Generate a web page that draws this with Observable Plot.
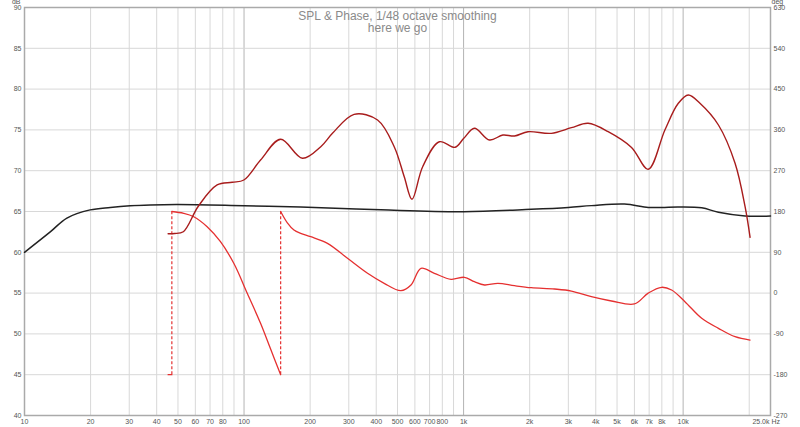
<!DOCTYPE html>
<html><head><meta charset="utf-8">
<script src="https://cdn.jsdelivr.net/npm/d3@7"></script>
<script src="https://cdn.jsdelivr.net/npm/@observablehq/plot@0.6"></script>
<style>body{margin:0;background:#fff;}</style>
</head><body><div id="chart"></div>
<script>
// ---- Texts ----
const titleLines = ["SPL & Phase, 1/48 octave smoothing", "here we go"];
const leftUnit = "dB", rightUnit = "deg", xUnit = "Hz";

// ---- Axis ticks ----
const dbTicks = [40, 45, 50, 55, 60, 65, 70, 75, 80, 85, 90];
const degTicks = [-270, -180, -90, 0, 90, 180, 270, 360, 450, 540, 630];
const xTickValues = [10, 20, 30, 40, 50, 60, 70, 80, 100, 200, 300, 400, 500, 600, 700, 800, 1000, 2000, 3000, 4000, 5000, 6000, 7000, 8000, 10000];
const xTickLabels = ["10", "20", "30", "40", "50", "60", "70", "80", "100", "200", "300", "400", "500", "600", "700", "800", "1k", "2k", "3k", "4k", "5k", "6k", "7k", "8k", "10k"];
const xEndValue = 25000, xEndLabel = "25.0k";
const decades = [10, 100, 1000, 10000];
const decadeLines = [100, 1000, 10000];

// ---- Series: black SPL (dB) ----
const freqBlack = [10, 13.1, 15.6, 19.9, 24.6, 30.3, 37.4, 50, 100, 181, 420, 1000, 2033, 3000, 3821, 5400, 6935, 8000, 9507, 12150, 14480, 19150, 25000];
const splBlack  = [60.0, 62.5, 64.2, 65.2, 65.5, 65.7, 65.8, 65.85, 65.7, 65.55, 65.2, 64.97, 65.27, 65.5, 65.72, 65.92, 65.5, 65.5, 65.55, 65.45, 64.9, 64.45, 64.45];

// ---- Series: dark red SPL (dB) ----
const freqDark = [45.1, 48.2, 52.9, 62.0, 75.4, 88.4, 99.8, 118.9, 146.8, 184.5, 223.6, 252.8, 317.1, 405.7, 483, 536.6, 582, 651, 775.5, 914.6, 1002, 1120, 1312, 1510, 1706, 1965, 2509, 3097, 3691, 4554, 5820, 6935, 8259, 9507, 10560, 11930, 14480, 17240, 19150, 20180];
const splDark  = [62.28, 62.3, 62.52, 65.67, 68.25, 68.58, 68.86, 71.31, 73.85, 71.52, 72.94, 74.58, 76.91, 76.21, 72.94, 69.26, 66.5, 70.49, 73.55, 72.87, 73.97, 75.2, 73.76, 74.37, 74.25, 74.78, 74.58, 75.27, 75.81, 74.78, 72.85, 70.17, 74.99, 78.26, 79.28, 78.26, 75.6, 70.91, 65.59, 61.84];

// ---- Series: wrapped phase (deg), one list per wrapped segment ----
const phaseSeg0Freq = [45.1, 46.9];
const phaseSeg0Deg  = [-180, -180];
const phaseSeg1Freq = [46.9, 53.1, 59.0, 67.9, 78.1, 89.8, 103.4, 118.9, 132, 146.8];
const phaseSeg1Deg  = [180, 176, 168.5, 146.5, 113.4, 65.7, -0.4, -66.6, -123, -180];
const phaseSeg2Freq = [146.8, 157.5, 168.8, 181.1, 201.3, 239.9, 296, 365.2, 434.8, 518.3, 576, 639.6, 735.8, 876.9, 1008.6, 1120, 1245, 1433, 1706, 2033, 2598, 3097, 3821, 4716, 6000, 6935, 7977, 8862, 10190, 12150, 14480, 17240, 20180];
const phaseSeg2Deg  = [180, 155, 139.2, 131.9, 124.4, 109.8, 76.8, 43.7, 21.6, 5.3, 17.9, 54.7, 43.7, 30.4, 34.9, 25.1, 17.9, 21.6, 16.3, 11.9, 9.0, 4.6, -7.9, -17.4, -24, 0, 12.8, 6.8, -19, -55.6, -77.7, -96.2, -103.5];
const wrapFreqs = [46.9, 146.8];
const wrapLow = -180, wrapHigh = 180;

// ---- Build tables ----
const degToDb = d => (d + 270) / 18 + 40;   // right axis (-270..630) shares the 40..90 dB frame
const dbToDeg = v => Math.round((v - 40) * 18 - 270);

const blackData = freqBlack.map((f, i) => ({f, v: splBlack[i]}));
const darkData = freqDark.map((f, i) => ({f, v: splDark[i]}));
const phaseData = [
  ...phaseSeg0Freq.map((f, i) => ({f, v: degToDb(phaseSeg0Deg[i]), s: 0})),
  ...phaseSeg1Freq.map((f, i) => ({f, v: degToDb(phaseSeg1Deg[i]), s: 1})),
  ...phaseSeg2Freq.map((f, i) => ({f, v: degToDb(phaseSeg2Deg[i]), s: 2}))
];
const minorGrid = [];
for (const d of decades) for (let k = 2; k <= 9; k++) if (d * k < xEndValue) minorGrid.push(d * k);
const xTickData = xTickValues.map((v, i) => ({v, label: xTickLabels[i]}));

const font = "Liberation Sans, Arial, sans-serif";
const labelColor = "#555";
const chart = Plot.plot({
  width: 800, height: 427,
  marginLeft: 24, marginRight: 30, marginTop: 7, marginBottom: 12,
  style: {fontFamily: font, fontSize: "7px", color: labelColor, background: "#fff", overflow: "visible"},
  x: {type: "log", domain: [10, xEndValue], axis: null},
  y: {domain: [40, 90]},
  marks: [
    Plot.gridX(minorGrid, {stroke: "#d8d8d8", strokeOpacity: 1}),
    Plot.gridX(decadeLines, {stroke: "#b4b4b4", strokeOpacity: 1}),
    Plot.gridY(dbTicks, {stroke: "#d8d8d8", strokeOpacity: 1}),
    Plot.frame({stroke: "#aaa", strokeWidth: 1.5}),
    Plot.axisY(dbTicks, {anchor: "left", tickSize: 0, tickPadding: 3, label: null, fill: labelColor}),
    Plot.axisY(degTicks.map(degToDb), {anchor: "right", tickSize: 0, tickPadding: 3, label: null, fill: labelColor, tickFormat: v => String(dbToDeg(v))}),
    Plot.text(xTickData, {x: "v", text: "label", frameAnchor: "bottom", lineAnchor: "top", dy: 4, fill: labelColor, fontSize: 7}),
    Plot.text([xEndLabel], {x: () => xEndValue, frameAnchor: "bottom", text: d => d, textAnchor: "end", dx: -1, dy: 4, lineAnchor: "top", fill: labelColor, fontSize: 7}),
    Plot.text([xUnit], {x: () => xEndValue, frameAnchor: "bottom", text: d => d, textAnchor: "start", dx: 1, dy: 4, lineAnchor: "top", fill: labelColor, fontSize: 7}),
    Plot.text([leftUnit], {frameAnchor: "top-left", text: d => d, textAnchor: "end", lineAnchor: "bottom", dx: -4, dy: -3.5, fill: labelColor, fontSize: 7}),
    Plot.text([rightUnit], {frameAnchor: "top-right", text: d => d, textAnchor: "start", lineAnchor: "bottom", dx: 1, dy: -3.5, fill: labelColor, fontSize: 7}),
    Plot.text([titleLines[0]], {frameAnchor: "top", text: d => d, lineAnchor: "top", dy: 3.5, fontSize: 12, fill: "#8a8a8a"}),
    Plot.text([titleLines[1]], {frameAnchor: "top", text: d => d, lineAnchor: "top", dy: 16, fontSize: 12, fill: "#8a8a8a"}),
    Plot.ruleX(wrapFreqs, {x: d => d, y1: degToDb(wrapLow), y2: degToDb(wrapHigh), stroke: "#e53030", strokeWidth: 1.2, strokeDasharray: "3,2"}),
    Plot.line(blackData, {x: "f", y: "v", stroke: "#222", strokeWidth: 1.5, curve: "catmull-rom"}),
    Plot.line(phaseData, {x: "f", y: "v", z: "s", stroke: "#e53030", strokeWidth: 1.3, curve: "catmull-rom"}),
    Plot.line(darkData, {x: "f", y: "v", stroke: "#a81c1c", strokeWidth: 1.4, curve: "catmull-rom"})
  ]
});
document.getElementById("chart").appendChild(chart);
</script>
</body></html>
